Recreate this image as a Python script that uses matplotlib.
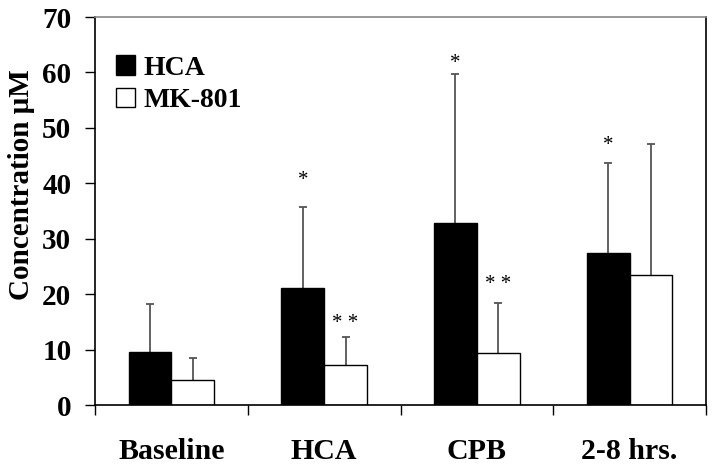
import matplotlib
matplotlib.use("Agg")
import matplotlib.pyplot as plt
import numpy as np

categories = ["Baseline", "HCA", "CPB", "2-8 hrs."]
series_names = ["HCA", "MK-801"]
hca_vals = [9.6, 21.1, 32.8, 27.4]
hca_err_top = [18.2, 35.8, 59.7, 43.7]
mk_vals = [4.5, 7.3, 9.4, 23.5]
mk_err_top = [8.4, 12.2, 18.4, 47.0]
hca_marks = ["", "*", "*", "*"]
hca_mark_y = [0, 41.5, 62.5, 47.7]
mk_marks = ["", "* *", "* *", ""]
mk_mark_y = [0, 15.7, 22.6, 0]
y_ticks = [0, 10, 20, 30, 40, 50, 60, 70]

plt.rcParams['font.family'] = ['Liberation Serif', 'DejaVu Serif']

fig = plt.figure(figsize=(7.14, 4.68), dpi=100)
ax = fig.add_axes([95/714, 1-405/468, (706-95)/714, (405-17)/468])

x = np.arange(len(categories)) + 0.5
w = 0.28
xh = x - w/2
xm = x + w/2

ax.bar(xh, hca_vals, w, color='black', edgecolor='black', linewidth=1,
       label=series_names[0], zorder=2)
ax.bar(xm, mk_vals, w, color='white', edgecolor='black', linewidth=1,
       label=series_names[1], zorder=2)

ecol = '#555555'
ax.vlines(xh, hca_vals, hca_err_top, color=ecol, linewidth=1.3, zorder=1)
ax.vlines(xm, mk_vals, mk_err_top, color=ecol, linewidth=1.3, zorder=1)
ax.plot(xh, hca_err_top, linestyle='none', marker='_', markersize=6,
        markeredgewidth=1.3, color=ecol, zorder=1)
ax.plot(xm, mk_err_top, linestyle='none', marker='_', markersize=6,
        markeredgewidth=1.3, color=ecol, zorder=1)

for xi, yi, m in zip(xh, hca_mark_y, hca_marks):
    if m:
        ax.annotate(m, (xi, yi), xytext=(0, -7), textcoords='offset points',
                    ha='center', va='baseline', fontsize=15)
for xi, yi, m in zip(xm, mk_mark_y, mk_marks):
    if m:
        ax.annotate(m, (xi, yi), xytext=(0, -7), textcoords='offset points',
                    ha='center', va='baseline', fontsize=15)

ax.set_xlim(0, 4)
ax.set_ylim(0, 70)
ax.set_yticks(y_ticks)
ax.set_yticklabels([str(v) for v in y_ticks], fontsize=21, fontweight='bold')
ax.tick_params(axis='y', direction='out', length=7, width=1, pad=10)

ax.set_xticks([0, 1, 2, 3, 4])
ax.set_xticklabels([])
ax.tick_params(axis='x', which='major', direction='out', length=7.5, width=1)
ax.set_xticks(x, minor=True)
ax.set_xticklabels(categories, minor=True, fontsize=21.5, fontweight='bold')
ax.tick_params(axis='x', which='minor', length=0, pad=24)

ax.set_ylabel("Concentration \u03bcM", fontsize=21, fontweight='bold')
ax.yaxis.set_label_coords(-0.098, 0.567)

ax.spines['top'].set_color('#888888')
ax.spines['top'].set_linewidth(1.2)
for s in ['left', 'right', 'bottom']:
    ax.spines[s].set_color('black')
    ax.spines[s].set_linewidth(1.2)

leg = ax.legend(loc='upper left', bbox_to_anchor=(0.0, 0.955), frameon=False,
                prop={'size': 20, 'weight': 'bold'}, handlelength=0.7,
                handleheight=0.7, handletextpad=0.3, labelspacing=0.25,
                borderaxespad=0.35)

fig.savefig("out.png", dpi=100)
